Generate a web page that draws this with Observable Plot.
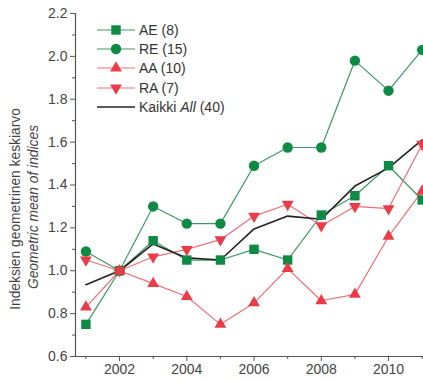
<!DOCTYPE html>
<html>
<head>
<meta charset="utf-8">
<script src="https://cdn.jsdelivr.net/npm/d3@7"></script>
<script src="https://cdn.jsdelivr.net/npm/@observablehq/plot@0.6"></script>
<style>
  html, body { margin: 0; padding: 0; background: #fff; }
  #wrap { position: relative; width: 423px; height: 382px; overflow: hidden; font-family: "Liberation Sans", Arial, sans-serif; }
  #legend { position: absolute; left: 96px; top: 20px; font-size: 14px; color: #333; }
  .row { display: flex; align-items: center; height: 19.3px; }
  .row svg { display: block; margin-right: 3px; }
</style>
</head>
<body>
<div id="wrap"><div id="legend"></div></div>
<script>
const years = [2001, 2002, 2003, 2004, 2005, 2006, 2007, 2008, 2009, 2010, 2011];
const AE  = [0.75, 1.00, 1.14, 1.05, 1.05, 1.10, 1.05, 1.26, 1.35, 1.49, 1.33];
const RE  = [1.09, 1.00, 1.30, 1.22, 1.22, 1.49, 1.575, 1.575, 1.98, 1.84, 2.03];
const AA  = [0.83, 1.00, 0.94, 0.88, 0.75, 0.85, 1.01, 0.86, 0.89, 1.16, 1.37];
const RA  = [1.05, 1.00, 1.065, 1.10, 1.145, 1.255, 1.31, 1.21, 1.30, 1.29, 1.59];
const ALL = [0.935, 1.00, 1.125, 1.06, 1.05, 1.195, 1.255, 1.24, 1.395, 1.48, 1.61];

const seriesNames = ["AE (8)", "RE (15)", "AA (10)", "RA (7)"];
const majorYears = [2002, 2004, 2006, 2008, 2010];
const minorYears = [2001, 2003, 2005, 2007, 2009, 2011];
const yTicks = [0.6, 0.8, 1.0, 1.2, 1.4, 1.6, 1.8, 2.0, 2.2];
const yMinor = [0.7, 0.9, 1.1, 1.3, 1.5, 1.7, 1.9, 2.1];

const green = "#0f8a45", greenLine = "#3f9764";
const red = "#e93b48", redLine = "#ec7077";

const specs = [
  {values: AE, symbol: "square", r: 5.3, fill: green, line: greenLine, rotate: 0},
  {values: RE, symbol: "circle", r: 5.2, fill: green, line: greenLine, rotate: 0},
  {values: AA, symbol: "triangle", r: 4.4, fill: red, line: redLine, rotate: 0},
  {values: RA, symbol: "triangle", r: 4.4, fill: red, line: redLine, rotate: 180}
];

const toRows = (vals) => years.map((y, i) => ({year: y, v: vals[i]}));
const xDomain = [2000.69, 2011.04];
const yDomain = [0.6, 2.2];

const marks = [];
for (const s of specs) {
  marks.push(Plot.line(toRows(s.values), {x: "year", y: "v", stroke: s.line, strokeWidth: 1.2}));
}
marks.push(Plot.line(toRows(ALL), {x: "year", y: "v", stroke: "#222", strokeWidth: 1.6}));
for (const s of specs) {
  marks.push(Plot.dot(toRows(s.values), {x: "year", y: "v", symbol: () => s.symbol, r: s.r, fill: s.fill, stroke: "none", rotate: s.rotate}));
}
marks.push(Plot.ruleX([xDomain[0]], {stroke: "#555", strokeWidth: 1.2}));
marks.push(Plot.ruleY([yDomain[0]], {stroke: "#555", strokeWidth: 1.2}));
marks.push(Plot.axisY({ticks: yTicks, tickSize: 5, tickPadding: 3, tickFormat: d3.format(".1f"), fontSize: 14, color: "#444", stroke: "#555"}));
marks.push(Plot.axisY({ticks: yMinor, tickSize: 3, tickFormat: () => "", stroke: "#555"}));
marks.push(Plot.axisX({ticks: majorYears, tickSize: 5, tickPadding: 3, tickFormat: "d", fontSize: 14, color: "#444", stroke: "#555"}));
marks.push(Plot.axisX({ticks: minorYears, tickSize: 3, tickFormat: () => "", stroke: "#555"}));

const chart = Plot.plot({
  width: 423,
  height: 382,
  marginLeft: 75,
  marginRight: 0,
  marginTop: 13,
  marginBottom: 26,
  style: {fontFamily: "Liberation Sans, Arial, sans-serif", background: "#fff", overflow: "hidden"},
  x: {domain: xDomain, label: null},
  y: {domain: yDomain, label: null},
  marks
});

const svg = d3.select(chart);
const t = svg.append("g").attr("fill", "#444").attr("font-size", 13.8).attr("text-anchor", "middle");
t.append("text").attr("transform", "translate(15,209) rotate(-90)").attr("dy", "0.35em").text("Indeksien geometrinen keskiarvo");
t.append("text").attr("transform", "translate(33,207) rotate(-90)").attr("dy", "0.35em").attr("font-style", "italic").text("Geometric mean of indices");

const wrap = document.getElementById("wrap");
wrap.insertBefore(chart, wrap.firstChild);

// legend
const legend = d3.select("#legend");
const symGen = (name, r) => d3.symbol(name === "square" ? d3.symbolSquare : name === "circle" ? d3.symbolCircle : d3.symbolTriangle, Math.PI * r * r)();
specs.forEach((s, i) => {
  const row = legend.append("div").attr("class", "row");
  const sv = row.append("svg").attr("width", 40).attr("height", 16);
  sv.append("line").attr("x1", 1).attr("x2", 39).attr("y1", 8).attr("y2", 8).attr("stroke", s.line).attr("stroke-width", 1.2);
  sv.append("path").attr("d", symGen(s.symbol, s.r)).attr("fill", s.fill).attr("transform", `translate(20,8) rotate(${s.rotate})`);
  row.append("span").text(seriesNames[i]);
});
const last = legend.append("div").attr("class", "row");
const sv2 = last.append("svg").attr("width", 40).attr("height", 16);
sv2.append("line").attr("x1", 1).attr("x2", 39).attr("y1", 8).attr("y2", 8).attr("stroke", "#222").attr("stroke-width", 1.6);
last.append("span").html("Kaikki <i>All</i> (40)");
</script>
</body>
</html>
